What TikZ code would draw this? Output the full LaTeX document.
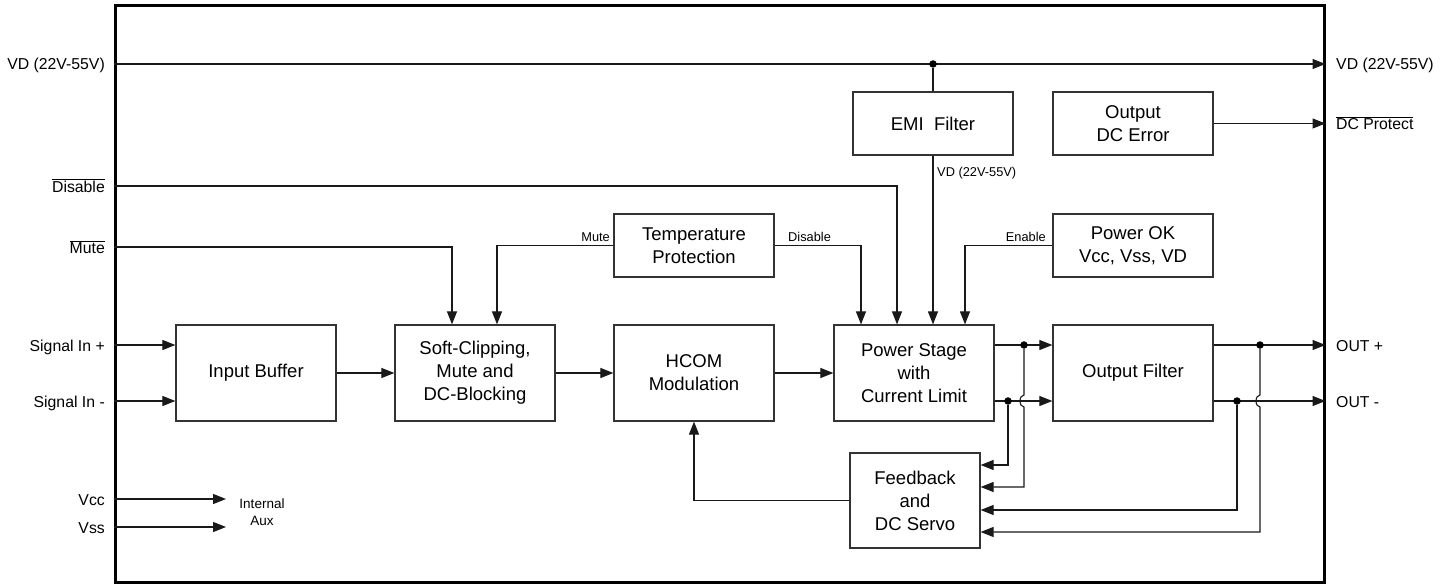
\documentclass[tikz,border=0pt]{standalone}
\usepackage{fontspec}
\setmainfont{Liberation Sans}
\usetikzlibrary{arrows.meta}
\begin{document}
\begin{tikzpicture}[x=1pt,y=-1pt,
 blk/.style={draw=black!80, line width=1.2pt, minimum width=160pt, minimum height=96pt, align=center, font=\fontsize{18.5}{23}\selectfont, inner sep=0pt},
 sblk/.style={blk, minimum height=63pt},
 wire/.style={draw=black!90, line width=1.1pt},
 arr/.style={wire, -{Triangle[length=13pt,width=10pt]}},
 lbl/.style={font=\fontsize{15.8}{18}\selectfont, inner sep=0pt},
 slbl/.style={font=\fontsize{12.8}{15}\selectfont, inner sep=0pt},
 dot/.style={circle, fill=black, inner sep=0pt, minimum size=7.5pt},
]
\useasboundingbox (0,0) rectangle (1453,586);

% frame
\node[draw, line width=3pt, inner sep=0pt, minimum width=1209pt, minimum height=576pt] (frame) at (719.5,294) {};

% blocks
\node[blk] (inbuf) at (256,373) {Input Buffer};
\node[blk] (soft) at (475,373) {Soft-Clipping,\\Mute and\\DC-Blocking};
\node[blk] (hcom) at (694,373) {HCOM\\Modulation};
\node[blk] (power) at (914,373) {Power Stage\\with\\Current Limit};
\node[blk] (ofilt) at (1133,373) {Output Filter};
\node[sblk] (temp) at (694,245.5) {Temperature\\Protection};
\node[sblk] (emi) at (933,123.5) {EMI~~Filter};
\node[sblk] (dcerr) at (1133,123.5) {Output\\DC Error};
\node[sblk] (pok) at (1133,245.5) {Power OK\\Vcc, Vss, VD};
\node[blk, minimum width=130pt, minimum height=95pt] (fb) at (915,500.5) {Feedback\\and\\DC Servo};

% frame coordinates
\coordinate (vdL) at (frame.west |- 0,64);
\coordinate (vdR) at (frame.east |- 0,64);
\coordinate (disL) at (frame.west |- 0,186);
\coordinate (muteL) at (frame.west |- 0,247);
\coordinate (sinp) at (frame.west |- 0,345);
\coordinate (sinm) at (frame.west |- 0,401);
\coordinate (vccL) at (frame.west |- 0,499);
\coordinate (vssL) at (frame.west |- 0,527);
\coordinate (vccE) at (226,499);
\coordinate (vssE) at (226,527);
\coordinate (dcR) at (frame.east |- dcerr.east);
\coordinate (outp) at (frame.east |- 0,345);
\coordinate (outm) at (frame.east |- 0,401);

% VD supply
\draw[arr] (vdL) -- (vdR);
\node[dot] (d1) at (933,64) {};
\draw[wire] (d1) -- (emi.north);
\draw[arr] (emi.south) -- (emi.south |- power.north);
\node[slbl, anchor=base west] (vdlab) at (937,176) {VD (22V-55V)};

% control lines
\draw[arr] (disL) -| ([xshift=-17pt]power.north);
\draw[arr] (muteL) -| ([xshift=-23pt]soft.north);
\draw[arr] (temp.west) -| ([xshift=22pt]soft.north);
\draw[arr] (temp.east) -| ([xshift=-53pt]power.north);
\draw[arr] (pok.west) -| ([xshift=51pt]power.north);
\draw[arr] (dcerr.east) -- (dcR);
\node[slbl, anchor=base east] (lmute) at (610,241) {Mute};
\node[slbl, anchor=base west] (ldis) at (788,241) {Disable};
\node[slbl, anchor=base east] (len) at (1046,241) {Enable};

% signal path
\draw[arr] (sinp) -- (sinp -| inbuf.west);
\draw[arr] (sinm) -- (sinm -| inbuf.west);
\draw[arr] (inbuf.east) -- (soft.west);
\draw[arr] (soft.east) -- (hcom.west);
\draw[arr] (hcom.east) -- (power.west);
\draw[arr] (power.east |- sinp) -- (ofilt.west |- sinp);
\draw[arr] (power.east |- sinm) -- (ofilt.west |- sinm);
\draw[arr] (ofilt.east |- outp) -- (outp);
\draw[arr] (ofilt.east |- outm) -- (outm);

% junctions and feedback
\node[dot] (j1) at (1024,345) {};
\node[dot] (j2) at (1008,401) {};
\node[dot] (j3) at (1260,345) {};
\node[dot] (j4) at (1237,401) {};
\draw[arr] (j2) -- (1008,465) -- (fb.east |- 0,465);
\draw[arr] (j1) -- (1024,395) arc[start angle=90, end angle=270, x radius=4pt, y radius=6pt] -- (1024,487) -- (fb.east |- 0,487);
\draw[arr] (j4) -- (1237,510) -- (fb.east |- 0,510);
\draw[arr] (j3) -- (1260,395) arc[start angle=90, end angle=270, x radius=4pt, y radius=6pt] -- (1260,532) -- (fb.east |- 0,532);
\draw[arr] (fb.west) -| (hcom.south);

% aux supplies
\draw[arr] (vccL) -- (vccE);
\draw[arr] (vssL) -- (vssE);
\node[font=\fontsize{13.5}{17}\selectfont, inner sep=0pt, align=center] (aux) at (262,512) {Internal\\Aux};

% outer labels
\node[lbl, anchor=base east] (tvdl) at (105,70) {VD (22V-55V)};
\node[lbl, anchor=base east] (tdis) at (105,192) {$\overline{\mbox{Disable}}$};
\node[lbl, anchor=base east] (tmute) at (105,253) {$\overline{\mbox{Mute}}$};
\node[lbl, anchor=base east] (tsp) at (105,351) {Signal In +};
\node[lbl, anchor=base east] (tsm) at (105,407) {Signal In -};
\node[lbl, anchor=base east] (tvcc) at (105,505) {Vcc};
\node[lbl, anchor=base east] (tvss) at (105,533) {Vss};
\node[lbl, anchor=base west] (tvdr) at (1336,70) {VD (22V-55V)};
\node[lbl, anchor=base west] (tdcp) at (1336,129.5) {$\overline{\mbox{DC Protect}}$};
\node[lbl, anchor=base west] (top) at (1336,351) {OUT +};
\node[lbl, anchor=base west] (tom) at (1336,407) {OUT -};
\end{tikzpicture}
\end{document}
